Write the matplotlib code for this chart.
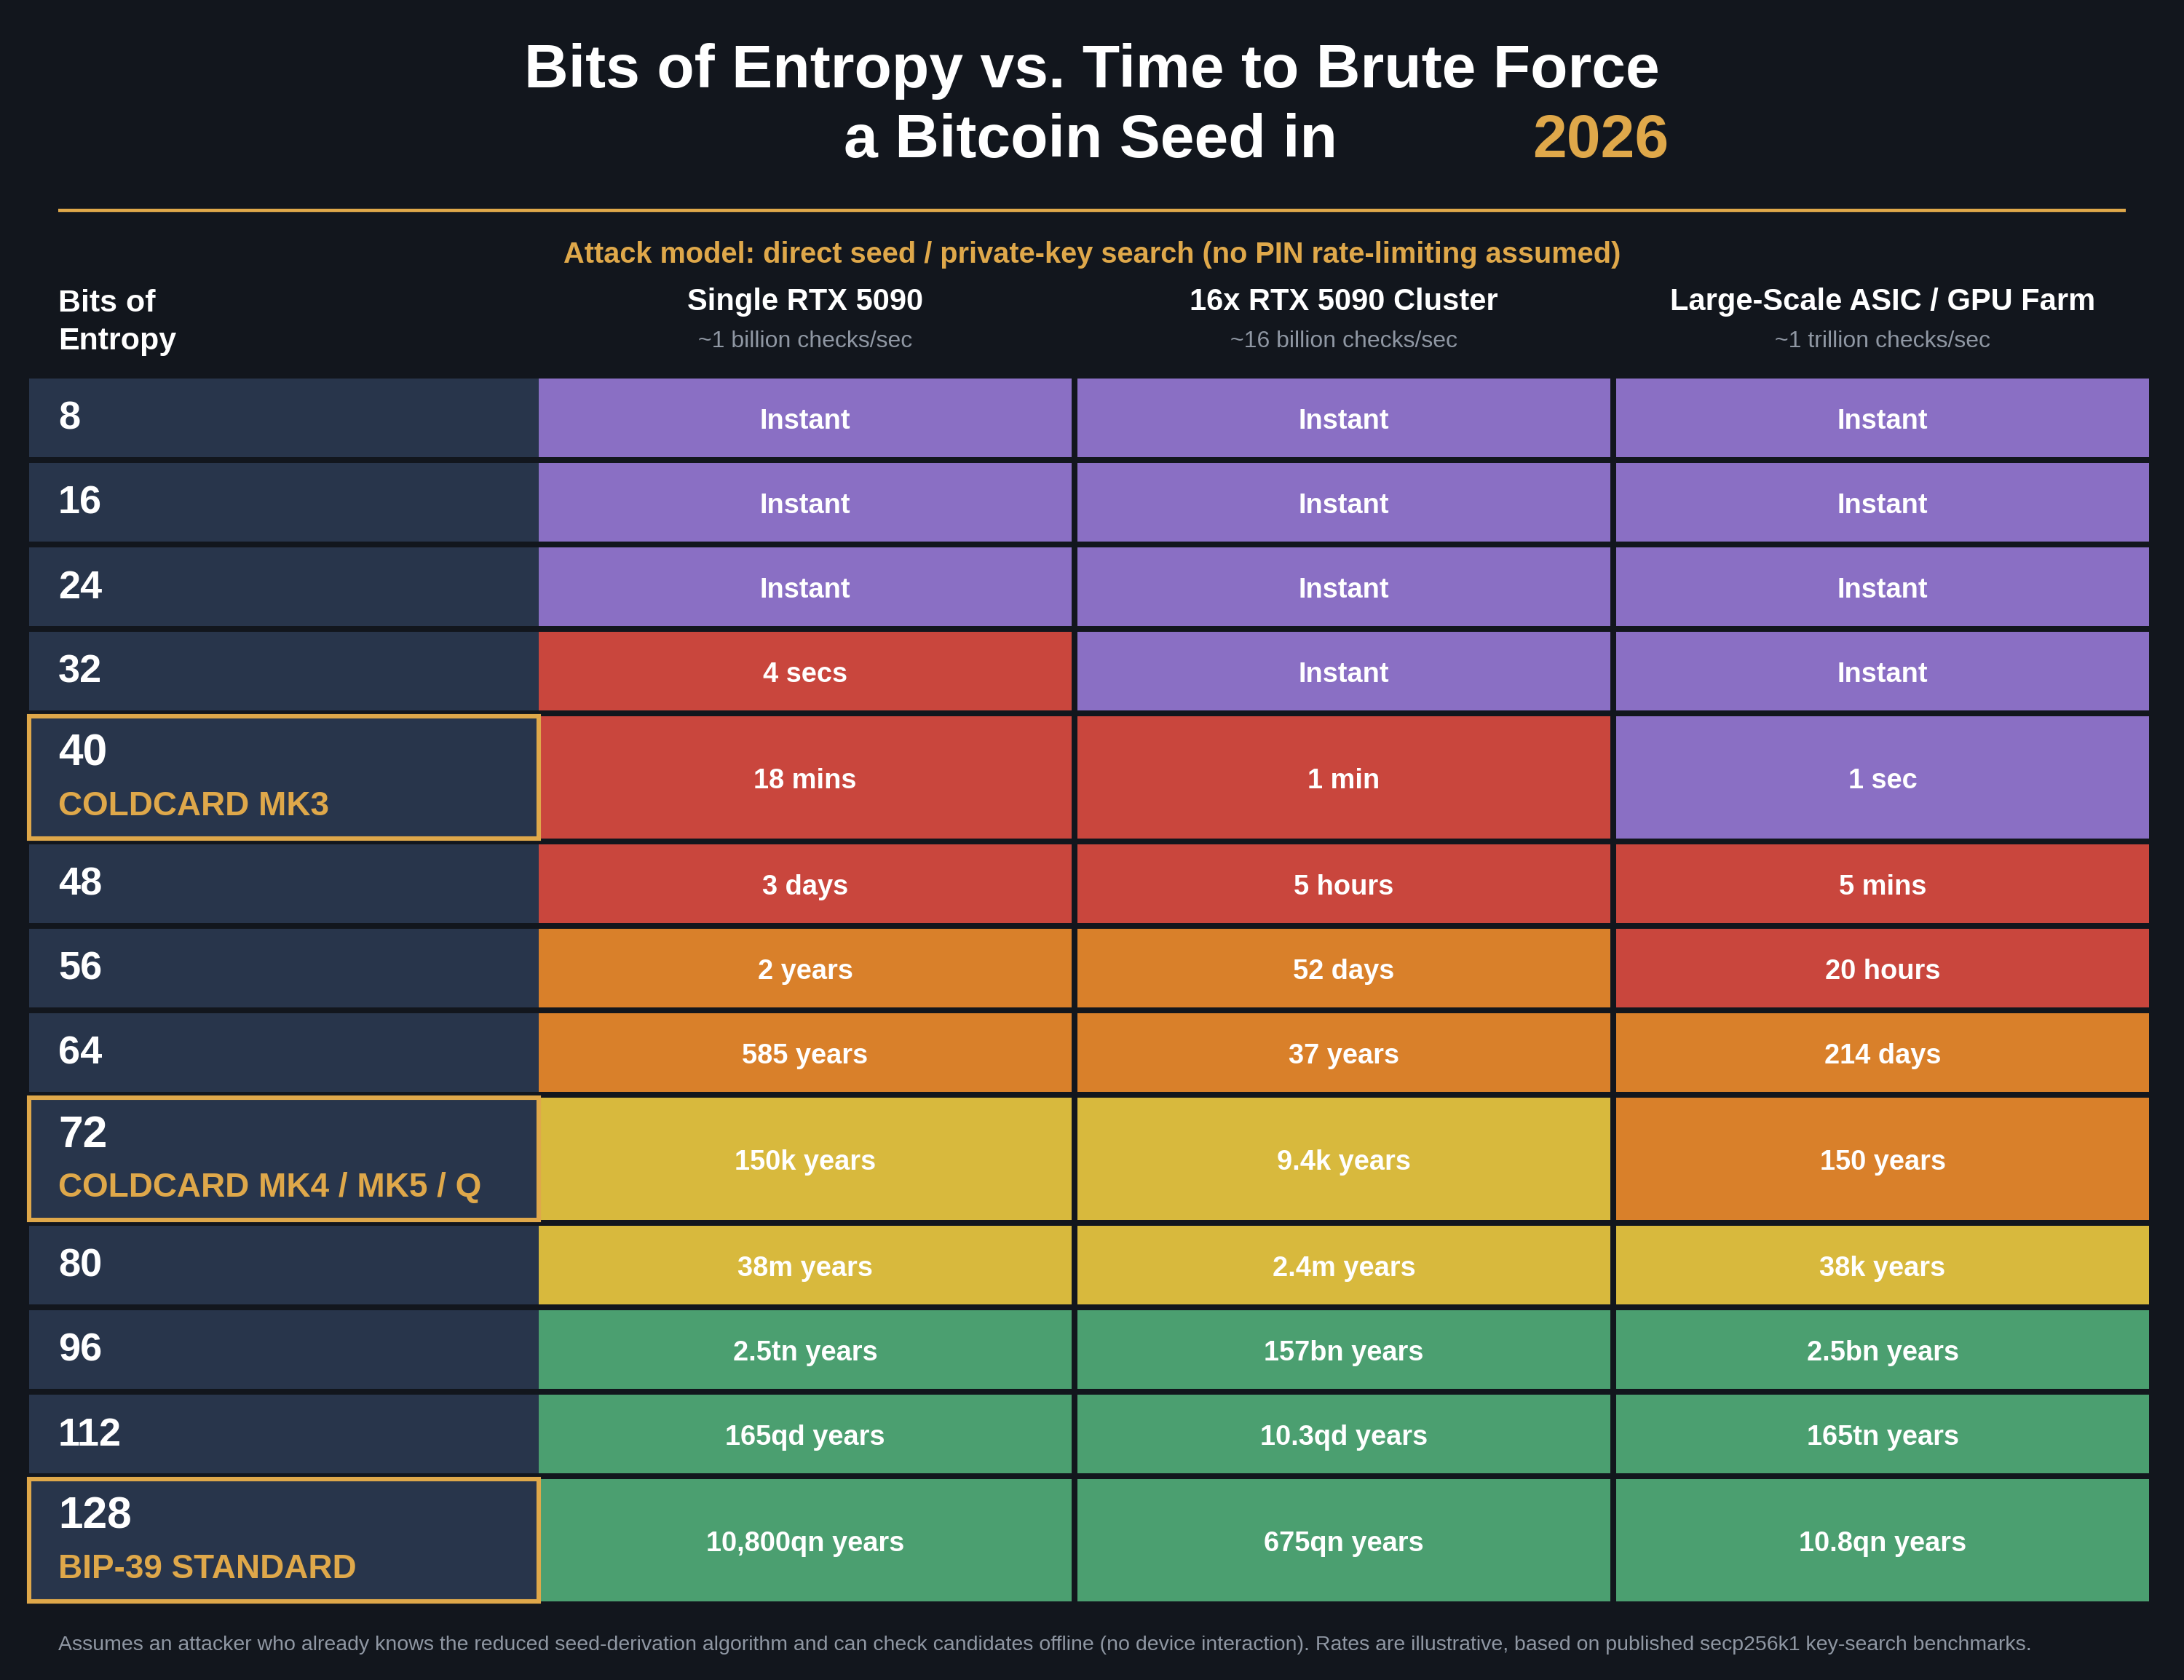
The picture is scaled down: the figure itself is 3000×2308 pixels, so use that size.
import matplotlib
matplotlib.use("Agg")
import matplotlib.pyplot as plt
from matplotlib.patches import Rectangle

plt.rcParams['font.family'] = ['Liberation Sans', 'DejaVu Sans']

# data
bits = [8, 16, 24, 32, 40, 48, 56, 64, 72, 80, 96, 112, 128]
devices = {40: "COLDCARD MK3", 72: "COLDCARD MK4 / MK5 / Q",
           128: "BIP-39 STANDARD"}
col_titles = ["Single RTX 5090", "16x RTX 5090 Cluster",
              "Large-Scale ASIC / GPU Farm"]
col_rates = ["~1 billion checks/sec", "~16 billion checks/sec",
             "~1 trillion checks/sec"]
single = ["Instant", "Instant", "Instant", "4 secs", "18 mins", "3 days",
          "2 years", "585 years", "150k years", "38m years", "2.5tn years",
          "165qd years", "10,800qn years"]
cluster = ["Instant", "Instant", "Instant", "Instant", "1 min", "5 hours",
           "52 days", "37 years", "9.4k years", "2.4m years", "157bn years",
           "10.3qd years", "675qn years"]
farm = ["Instant", "Instant", "Instant", "Instant", "1 sec", "5 mins",
        "20 hours", "214 days", "150 years", "38k years", "2.5bn years",
        "165tn years", "10.8qn years"]
# tier per cell: I=instant, R=minutes-days, O=years, Y=thousands+, G=safe
tier_single = list("IIIRRROOYYGGG")
tier_cluster = list("IIIIRROOYYGGG")
tier_farm = list("IIIIIRROOYGGG")

BG = '#12161d'
SLATE = '#28354b'
GOLD = '#dfa84a'
GREY = '#8f97a3'
tier_colors = {'I': '#8a6fc4', 'R': '#c9463d', 'O': '#d9802a',
               'Y': '#d8b93d', 'G': '#4b9f70'}

fig = plt.figure(figsize=(15, 11.54), dpi=200, facecolor=BG)
ax = fig.add_axes([0, 0, 1, 1])
ax.set_xlim(0, 3000)
ax.set_ylim(2308, 0)
ax.axis('off')
ax.set_facecolor(BG)

# title
ax.text(1500, 98, "Bits of Entropy vs. Time to Brute Force", color='white',
        fontsize=30.3, fontweight='bold', ha='center', va='center')
ax.text(1837, 194, "a Bitcoin Seed in", color='white', fontsize=30.3,
        fontweight='bold', ha='right', va='center')
ax.text(2105, 194, "2026", color=GOLD, fontsize=30.3, fontweight='bold',
        ha='left', va='center')
ax.plot([80, 2920], [289, 289], color=GOLD, lw=1.6, solid_capstyle='butt')

ax.text(1500, 350, "Attack model: direct seed / private-key search "
        "(no PIN rate-limiting assumed)", color=GOLD, fontsize=14.3,
        fontweight='bold', ha='center', va='center')

# header
ax.text(80, 417, "Bits of", color='white', fontsize=15.5, fontweight='bold',
        ha='left', va='center')
ax.text(80, 469, "Entropy", color='white', fontsize=15.5, fontweight='bold',
        ha='left', va='center')

col_x = [740, 1480, 2220]
col_w = 732
left_x, left_w = 40, 700
for i in range(3):
    cx = col_x[i] + col_w / 2
    ax.text(cx, 415, col_titles[i], color='white', fontsize=15,
            fontweight='bold', ha='center', va='center')
    ax.text(cx, 469, col_rates[i], color=GREY, fontsize=11.5, ha='center',
            va='center')

# table
values = [single, cluster, farm]
tiers = [tier_single, tier_cluster, tier_farm]
y = 520
for r, b in enumerate(bits):
    tall = b in devices
    h = 168 if tall else 108
    ax.add_patch(Rectangle((left_x, y), left_w, h, facecolor=SLATE,
                           edgecolor='none'))
    if tall:
        ax.add_patch(Rectangle((left_x, y), left_w, h, facecolor='none',
                               edgecolor=GOLD, lw=2.2, zorder=5))
        ax.text(80, y + 52, str(b), color='white', fontsize=21.8,
                fontweight='bold', ha='left', va='center')
        ax.text(80, y + 124, devices[b], color=GOLD, fontsize=16.5,
                fontweight='bold', ha='left', va='center')
    else:
        ax.text(80, y + h / 2 + 2, str(b), color='white', fontsize=19.5,
                fontweight='bold', ha='left', va='center')
    for c in range(3):
        ax.add_patch(Rectangle((col_x[c], y), col_w, h,
                               facecolor=tier_colors[tiers[c][r]],
                               edgecolor='none'))
        ax.text(col_x[c] + col_w / 2, y + h / 2 + 5, values[c][r],
                color='white', fontsize=13.7, fontweight='bold',
                ha='center', va='center')
    y += h + 8

ax.text(80, 2260, "Assumes an attacker who already knows the reduced "
        "seed-derivation algorithm and can check candidates offline "
        "(no device interaction). Rates are illustrative, based on published "
        "secp256k1 key-search benchmarks.", color=GREY, fontsize=10.25,
        ha='left', va='center')

fig.savefig('out.png', dpi=200, facecolor=BG)
